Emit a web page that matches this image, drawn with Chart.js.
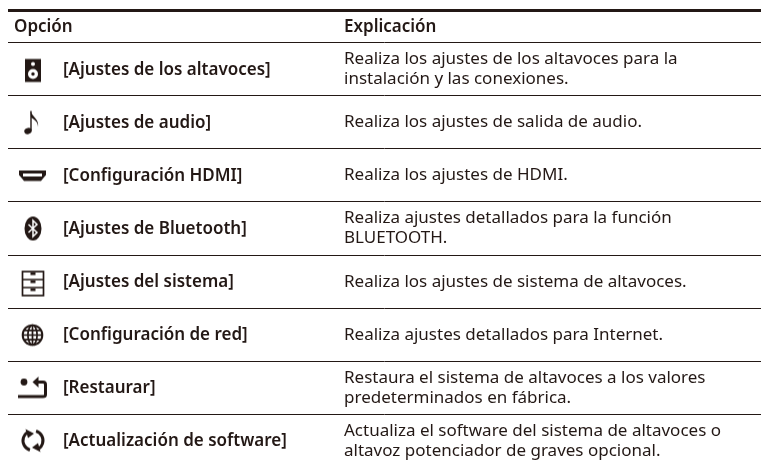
<!DOCTYPE html>
<html>
<head>
<meta charset="utf-8">
<style>
  html, body { margin: 0; padding: 0; background: #fff; }
  #wrap { width: 761px; height: 465px; }
</style>
<script src="https://cdn.jsdelivr.net/npm/chart.js@4"></script>
</head>
<body>
<div id="wrap"><canvas id="myChart" width="761" height="465"></canvas></div>
<script>
// Table content
const headers = ["Opción", "Explicación"];
const options = [
  "[Ajustes de los altavoces]",
  "[Ajustes de audio]",
  "[Configuración HDMI]",
  "[Ajustes de Bluetooth]",
  "[Ajustes del sistema]",
  "[Configuración de red]",
  "[Restaurar]",
  "[Actualización de software]",
];
const explanations = [
  ["Realiza los ajustes de los altavoces para la", "instalación y las conexiones."],
  ["Realiza los ajustes de salida de audio."],
  ["Realiza los ajustes de HDMI."],
  ["Realiza ajustes detallados para la función", "BLUETOOTH."],
  ["Realiza los ajustes de sistema de altavoces."],
  ["Realiza ajustes detallados para Internet."],
  ["Restaura el sistema de altavoces a los valores", "predeterminados en fábrica."],
  ["Actualiza el software del sistema de altavoces o", "altavoz potenciador de graves opcional."],
];
const rowIndex = [0, 1, 2, 3, 4, 5, 6, 7];
const iconNames = ["speaker", "note", "hdmi", "bluetooth", "drawers", "globe", "restore", "update"];

const ink = "#231815";
const topRule = -1.113; // in row units
const headerRow = -0.82;
const iconX = 33;
const optionX = 63;
const textX = 344;
const headerX = 14;
const boldFont = "600 17px 'Noto Sans'";
const bodyFont = "400 17px 'Noto Sans'";

// Icons become point styles of the scatter dataset
const iconSize = 36;
const painters = {
  speaker(c) {
    c.fillStyle = ink;
    c.fillRect(-8, -10.5, 16, 23);
    c.fillStyle = "#fff";
    c.beginPath(); c.arc(0, -5.5, 2, 0, Math.PI * 2); c.fill();
    c.beginPath(); c.arc(0, 4.5, 5, 0, Math.PI * 2); c.fill();
    c.fillStyle = ink;
    c.beginPath(); c.arc(0, 4.5, 1.7, 0, Math.PI * 2); c.fill();
  },
  note(c) {
    c.fillStyle = ink;
    c.strokeStyle = ink;
    c.beginPath(); c.ellipse(-5, 8.5, 3.8, 3, -0.4, 0, Math.PI * 2); c.fill();
    c.lineWidth = 1.4;
    c.beginPath(); c.moveTo(-2, 8); c.lineTo(-2, -11.5); c.stroke();
    c.beginPath();
    c.moveTo(-2.5, -11.5);
    c.bezierCurveTo(-1, -6, 6.5, -3, 5, 4.5);
    c.bezierCurveTo(5, -1, 1, -3, -2, -5);
    c.closePath();
    c.fill();
  },
  hdmi(c) {
    c.fillStyle = ink;
    c.beginPath();
    c.moveTo(-14, -5); c.lineTo(13, -5); c.lineTo(13, -0.5);
    c.lineTo(10, 3); c.lineTo(8, 5.5); c.lineTo(-9, 5.5); c.lineTo(-11, 3); c.lineTo(-14, -0.5);
    c.closePath(); c.fill();
    c.fillStyle = "#fff";
    c.fillRect(-10, -2, 19, 3);
  },
  bluetooth(c) {
    c.fillStyle = ink;
    c.beginPath(); c.ellipse(0, 0, 8.5, 12, 0, 0, Math.PI * 2); c.fill();
    c.strokeStyle = "#fff";
    c.lineWidth = 1.5;
    c.beginPath();
    c.moveTo(-4.5, -4); c.lineTo(4, 4); c.lineTo(0, 8); c.lineTo(0, -8); c.lineTo(4, -4); c.lineTo(-4.5, 4);
    c.stroke();
  },
  drawers(c) {
    c.translate(0, 2);
    c.strokeStyle = ink;
    c.lineWidth = 1.7;
    c.strokeRect(-10.5, -12, 21, 24);
    c.beginPath();
    c.moveTo(-10.5, -4); c.lineTo(10.5, -4);
    c.moveTo(-10.5, 4); c.lineTo(10.5, 4);
    c.stroke();
    c.fillStyle = ink;
    c.fillRect(-2.5, -11, 5, 2.5);
    c.fillRect(-2.5, -3, 5, 2.5);
    c.fillRect(-2.5, 5, 5, 2.5);
  },
  globe(c) {
    c.translate(-0.5, 0.5);
    c.strokeStyle = ink;
    c.lineWidth = 2;
    c.beginPath(); c.arc(0, 0, 9.8, 0, Math.PI * 2); c.stroke();
    c.lineWidth = 1.7;
    c.beginPath(); c.ellipse(0, 0, 4.6, 9.8, 0, 0, Math.PI * 2); c.stroke();
    c.beginPath();
    c.moveTo(0, -9.8); c.lineTo(0, 9.8);
    c.moveTo(-9.8, 0); c.lineTo(9.8, 0);
    c.moveTo(-8.4, -4.6); c.lineTo(8.4, -4.6);
    c.moveTo(-8.4, 4.6); c.lineTo(8.4, 4.6);
    c.stroke();
  },
  restore(c) {
    c.fillStyle = ink;
    c.beginPath(); c.arc(-9, -5.5, 3.4, 0, Math.PI * 2); c.fill();
    c.strokeStyle = ink;
    c.lineWidth = 3;
    c.beginPath();
    c.moveTo(4, -5.5); c.lineTo(10, -5.5);
    c.quadraticCurveTo(12.5, -5.5, 12.5, -3);
    c.lineTo(12.5, 7);
    c.quadraticCurveTo(12.5, 9, 10, 9);
    c.lineTo(-15, 9);
    c.stroke();
    c.beginPath();
    c.moveTo(-0.5, -5.5); c.lineTo(5.5, -11); c.lineTo(5.5, 0); c.closePath(); c.fill();
  },
  update(c) {
    c.strokeStyle = ink;
    c.fillStyle = ink;
    c.lineWidth = 3;
    c.beginPath(); c.arc(0, 0, 10, Math.PI * 0.6, Math.PI * 1.3); c.stroke();
    c.beginPath(); c.arc(0, 0, 10, -Math.PI * 0.4, Math.PI * 0.3); c.stroke();
    c.beginPath(); c.moveTo(-7.5, -11.5); c.lineTo(1, -7); c.lineTo(-5, -2.5); c.closePath(); c.fill();
    c.beginPath(); c.moveTo(7.5, 11.5); c.lineTo(-1, 7); c.lineTo(5, 2.5); c.closePath(); c.fill();
  },
};

const makeIcon = (name) => {
  const cv = document.createElement("canvas");
  cv.width = iconSize;
  cv.height = iconSize;
  const c = cv.getContext("2d");
  c.translate(iconSize / 2, iconSize / 2);
  painters[name](c);
  return cv;
};

// Table text, placed through the chart's scales
const tableText = {
  id: "tableText",
  afterDatasetsDraw(chart) {
    const { ctx, scales: { x, y } } = chart;
    ctx.save();
    ctx.fillStyle = ink;
    ctx.textBaseline = "alphabetic";
    ctx.textAlign = "left";
    ctx.font = boldFont;
    ctx.fillText(headers[0], x.getPixelForValue(headerX), y.getPixelForValue(headerRow) + 6);
    ctx.fillText(headers[1], x.getPixelForValue(textX), y.getPixelForValue(headerRow) + 6);
    options.forEach((label, i) => {
      ctx.font = boldFont;
      ctx.fillText(label, x.getPixelForValue(optionX), y.getPixelForValue(rowIndex[i]) + 5.5);
      ctx.font = bodyFont;
      const lines = explanations[i];
      lines.forEach((line, j) => {
        const off = (j - (lines.length - 1) / 2) * 20 + 5;
        ctx.fillText(line, x.getPixelForValue(textX), y.getPixelForValue(rowIndex[i]) + off);
      });
    });
    ctx.restore();
  },
};

const createChart = () => {
  const chartCtx = document.getElementById("myChart").getContext("2d");
  new Chart(chartCtx, {
    type: "scatter",
    data: {
      datasets: [
        {
          data: rowIndex.map((r) => ({ x: iconX, y: r })),
          pointStyle: iconNames.map(makeIcon),
          pointRadius: iconSize / 2,
          clip: false,
        },
      ],
    },
    options: {
      responsive: false,
      animation: false,
      layout: { autoPadding: false, padding: { left: 8, right: 0, top: 0, bottom: 0 } },
      plugins: { legend: { display: false }, tooltip: { enabled: false } },
      scales: {
        x: {
          type: "linear",
          min: 8,
          max: 761,
          display: false,
        },
        y: {
          type: "linear",
          reverse: true,
          min: -1.311,
          max: 7.462,
          border: { display: false },
          afterBuildTicks: (axis) => {
            // one rule between rows, plus the heavy one above the header
            axis.ticks = [topRule].concat([-0.5, 0.5, 1.5, 2.5, 3.5, 4.5, 5.5, 6.5]).map((value) => ({ value }));
          },
          ticks: { display: false },
          grid: {
            drawTicks: false,
            color: ink,
            lineWidth: (c) => (c.tick && c.tick.value === topRule ? 3 : 1),
          },
        },
      },
    },
    plugins: [tableText],
  });
};

document.addEventListener("DOMContentLoaded", createChart);
</script>
</body>
</html>
